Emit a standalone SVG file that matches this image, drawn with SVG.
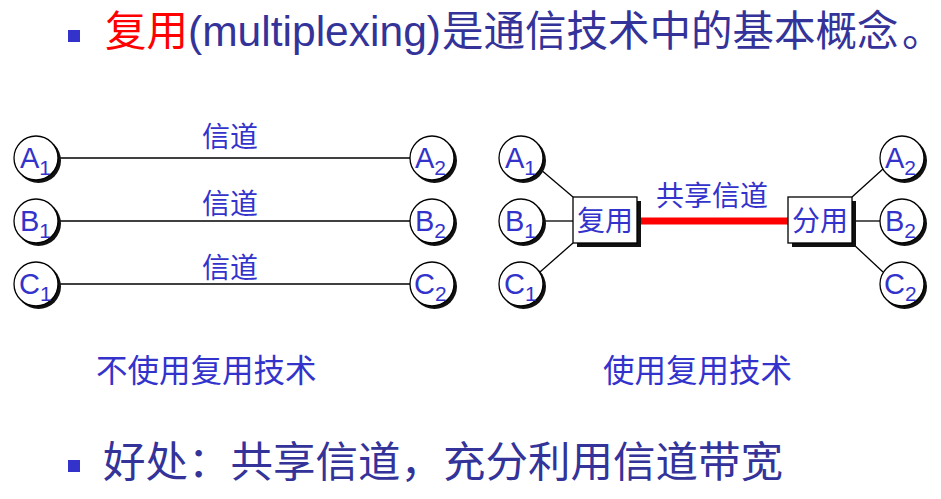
<svg xmlns="http://www.w3.org/2000/svg" width="941" height="499" viewBox="0 0 941 499">
<defs>
<style>
.t{font-family:"Liberation Sans","Noto Sans CJK SC",sans-serif}
.cj{font-family:"Noto Sans CJK SC","Liberation Sans",sans-serif}
.lbl{fill:#3333CC}
.dk{fill:#333399}
.nd{fill:#fff;stroke:#000;stroke-width:1.3}
.sh{fill:#111}
.ln{stroke:#000;stroke-width:1.3;fill:none}
.nl{font-family:"Liberation Sans",Arial,sans-serif;fill:#3333CC;font-size:29px}
.nl tspan.s{font-size:21px}
</style>
</defs>
<rect width="941" height="499" fill="#fff"/>

<g id="title">
<rect x="68" y="30" width="12" height="12" fill="#3333CC"/>
<text class="cj" x="105" y="46" font-size="41.5" fill="#FF0000">复用</text>
<text x="188" y="46" font-size="43" fill="#333399" font-family="Liberation Sans, Arial, sans-serif" textLength="253" lengthAdjust="spacingAndGlyphs">(multiplexing)</text>
<text class="cj dk" x="442" y="46" font-size="41.5">是通信技术中的基本概念</text>
<text class="cj dk" x="902" y="46" font-size="41.5">。</text>
</g>

<g id="connectors">
<line class="ln" x1="58" y1="158" x2="410" y2="158"/>
<line class="ln" x1="58" y1="221" x2="410" y2="221"/>
<line class="ln" x1="58" y1="284" x2="410" y2="284"/>
<line class="ln" x1="540" y1="169" x2="573" y2="197"/>
<line class="ln" x1="543" y1="221" x2="573" y2="221"/>
<line class="ln" x1="540" y1="272" x2="573" y2="243"/>
<line x1="637" y1="221" x2="788" y2="221" stroke="#FF0000" stroke-width="7"/>
<line class="ln" x1="852" y1="197" x2="883" y2="169"/>
<line class="ln" x1="852" y1="221" x2="880" y2="221"/>
<line class="ln" x1="852" y1="243" x2="883" y2="272"/>
</g>

<g id="channel-labels" class="cj lbl" font-size="28">
<text x="230" y="147" text-anchor="middle">信道</text>
<text x="230" y="214" text-anchor="middle">信道</text>
<text x="230" y="278" text-anchor="middle">信道</text>
<text x="712" y="206" text-anchor="middle">共享信道</text>
</g>

<g id="L-A1"><circle class="sh" cx="38.5" cy="160.5" r="22.5"/><circle class="nd" cx="36" cy="158" r="22"/><text class="nl" x="20" y="168">A<tspan class="s" dy="7">1</tspan></text></g>
<g id="L-B1"><circle class="sh" cx="38.5" cy="223.5" r="22.5"/><circle class="nd" cx="36" cy="221" r="22"/><text class="nl" x="20" y="231">B<tspan class="s" dy="7">1</tspan></text></g>
<g id="L-C1"><circle class="sh" cx="38.5" cy="286.5" r="22.5"/><circle class="nd" cx="36" cy="284" r="22"/><text class="nl" x="19" y="294">C<tspan class="s" dy="7">1</tspan></text></g>

<g id="L-A2"><circle class="sh" cx="434.5" cy="160.5" r="22.5"/><circle class="nd" cx="432" cy="158" r="22"/><text class="nl" x="415" y="168">A<tspan class="s" dy="7">2</tspan></text></g>
<g id="L-B2"><circle class="sh" cx="434.5" cy="223.5" r="22.5"/><circle class="nd" cx="432" cy="221" r="22"/><text class="nl" x="415" y="231">B<tspan class="s" dy="7">2</tspan></text></g>
<g id="L-C2"><circle class="sh" cx="434.5" cy="286.5" r="22.5"/><circle class="nd" cx="432" cy="284" r="22"/><text class="nl" x="414" y="294">C<tspan class="s" dy="7">2</tspan></text></g>

<g id="R-A1"><circle class="sh" cx="523.5" cy="160.5" r="22.5"/><circle class="nd" cx="521" cy="158" r="22"/><text class="nl" x="505" y="168">A<tspan class="s" dy="7">1</tspan></text></g>
<g id="R-B1"><circle class="sh" cx="523.5" cy="223.5" r="22.5"/><circle class="nd" cx="521" cy="221" r="22"/><text class="nl" x="505" y="231">B<tspan class="s" dy="7">1</tspan></text></g>
<g id="R-C1"><circle class="sh" cx="523.5" cy="286.5" r="22.5"/><circle class="nd" cx="521" cy="284" r="22"/><text class="nl" x="504" y="294">C<tspan class="s" dy="7">1</tspan></text></g>

<g id="R-A2"><circle class="sh" cx="904.5" cy="160.5" r="22.5"/><circle class="nd" cx="902" cy="158" r="22"/><text class="nl" x="885" y="168">A<tspan class="s" dy="7">2</tspan></text></g>
<g id="R-B2"><circle class="sh" cx="904.5" cy="223.5" r="22.5"/><circle class="nd" cx="902" cy="221" r="22"/><text class="nl" x="885" y="231">B<tspan class="s" dy="7">2</tspan></text></g>
<g id="R-C2"><circle class="sh" cx="904.5" cy="286.5" r="22.5"/><circle class="nd" cx="902" cy="284" r="22"/><text class="nl" x="884" y="294">C<tspan class="s" dy="7">2</tspan></text></g>

<g id="mux"><rect class="sh" x="577" y="201" width="64" height="46"/><rect class="nd" x="573" y="197" width="64" height="46"/><text class="cj lbl" x="605" y="231" font-size="28" text-anchor="middle">复用</text></g>
<g id="demux"><rect class="sh" x="792" y="201" width="64" height="46"/><rect class="nd" x="788" y="197" width="64" height="46"/><text class="cj lbl" x="820" y="231" font-size="28" text-anchor="middle">分用</text></g>

<g id="captions" class="cj lbl" font-size="31.5">
<text x="96" y="382">不使用复用技术</text>
<text x="603" y="382">使用复用技术</text>
</g>

<g id="benefit">
<rect x="68" y="460" width="12" height="12" fill="#3333CC"/>
<text class="cj dk" x="103" y="477" font-size="42.5">好处：共享信道，充分利用信道带宽</text>
</g>
</svg>
